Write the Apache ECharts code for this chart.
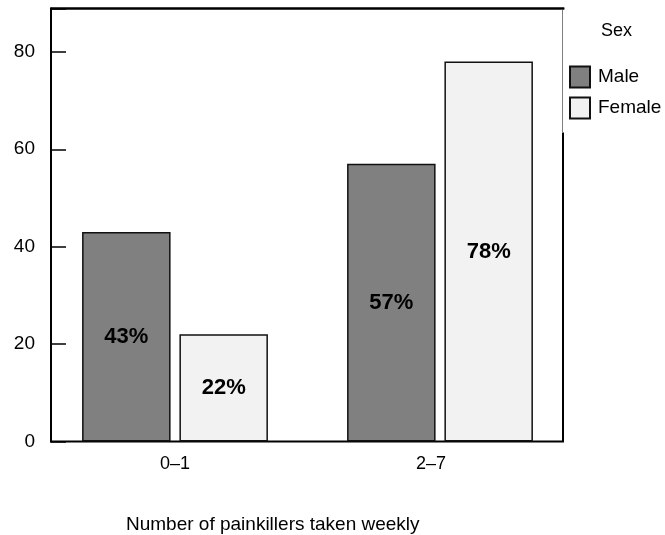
<!DOCTYPE html>
<html>
<head>
<meta charset="utf-8">
<title>Painkillers taken weekly by sex</title>
<script src="https://cdn.jsdelivr.net/npm/echarts@6/dist/echarts.min.js"></script>
<style>
  html, body { margin: 0; padding: 0; background: #ffffff; }
  #chart { width: 665px; height: 535px; }
</style>
</head>
<body>
<div id="chart"></div>
<script>
// Share (%) of each sex per weekly painkiller band
const categories = ['0\u20131', '2\u20137'];
const maleValues = [43, 57];
const femaleValues = [22, 78];
const yTicks = [0, 20, 40, 60, 80];
const seriesNames = ['Male', 'Female'];
const legendTitle = 'Sex';
const xTitle = 'Number of painkillers taken weekly';

const FONT = '"Liberation Sans", Arial, Helvetica, sans-serif';
const Y_MAX = 88.9;

const chart = echarts.init(document.getElementById('chart'), null, { renderer: 'canvas' });

const pct = p => p.value + '%';

const option = {
  backgroundColor: '#ffffff',
  animation: false,
  textStyle: { fontFamily: FONT },
  grid: [
    // frame + value axis
    { left: 51, top: 8.5, width: 512, height: 433, show: true, borderColor: '#000', borderWidth: 2, backgroundColor: 'transparent' },
    // bars
    { left: 42.5, top: 8.5, width: 530, height: 433 },
    // category labels
    { left: 47, top: 8.5, width: 512, height: 433 }
  ],
  xAxis: [
    { gridIndex: 0, type: 'category', data: categories, show: false },
    { gridIndex: 1, type: 'category', data: categories, show: false },
    {
      gridIndex: 2, type: 'category', data: categories,
      axisLine: { show: false }, axisTick: { show: false },
      axisLabel: { color: '#000', fontSize: 18, fontFamily: FONT, margin: 14 }
    }
  ],
  yAxis: [
    {
      gridIndex: 0, type: 'value', min: 0, max: Y_MAX, interval: 20,
      axisLine: { show: true, lineStyle: { color: '#000', width: 2 } },
      axisTick: { show: true, inside: true, length: 15, lineStyle: { color: '#000', width: 1.5 } },
      axisLabel: {
        color: '#000', fontSize: 19, fontFamily: FONT, margin: 16,
        formatter: v => (yTicks.indexOf(v) >= 0 ? String(v) : '')
      },
      splitLine: { show: false }
    },
    { gridIndex: 1, type: 'value', min: 0, max: Y_MAX, show: false, splitLine: { show: false } },
    { gridIndex: 2, type: 'value', min: 0, max: Y_MAX, show: false, splitLine: { show: false } }
  ],
  legend: {
    orient: 'vertical',
    left: 569, top: 65.5,
    padding: 0,
    itemWidth: 20, itemHeight: 21, itemGap: 8,
    icon: 'rect',
    z: 6,
    data: seriesNames,
    textStyle: { color: '#000', fontSize: 19, fontFamily: FONT, padding: [0, 0, 0, 3] }
  },
  series: [
    {
      name: seriesNames[0], type: 'bar', xAxisIndex: 1, yAxisIndex: 1,
      data: maleValues, barWidth: 88.5, barGap: '10%',
      itemStyle: { color: '#808080', borderColor: '#111', borderWidth: 1.5 },
      label: { show: true, position: 'inside', formatter: pct, color: '#000', fontWeight: 'bold', fontSize: 22, fontFamily: FONT }
    },
    {
      name: seriesNames[1], type: 'bar', xAxisIndex: 1, yAxisIndex: 1,
      data: femaleValues, barWidth: 88.5, barGap: '10%',
      itemStyle: { color: '#f2f2f2', borderColor: '#111', borderWidth: 1.5 },
      label: { show: true, position: 'inside', formatter: pct, color: '#000', fontWeight: 'bold', fontSize: 22, fontFamily: FONT }
    }
  ],
  graphic: [
    // legend panel overlapping the frame's right edge
    { type: 'rect', z: 3, shape: { x: 561.5, y: 9.5, width: 110, height: 123 }, style: { fill: '#ffffff' } },
    { type: 'line', z: 4, shape: { x1: 562.5, y1: 8, x2: 562.5, y2: 133 }, style: { stroke: '#808080', lineWidth: 1 } },
    { type: 'line', z: 4, shape: { x1: 51, y1: 8.5, x2: 564.5, y2: 8.5 }, style: { stroke: '#000', lineWidth: 2 } },
    {
      type: 'text', z: 6, left: 601, top: 22,
      style: { text: legendTitle, fill: '#000', font: '18px ' + FONT }
    },
    {
      type: 'text', z: 6, left: 126, top: 515,
      style: { text: xTitle, fill: '#000', font: '19px ' + FONT }
    }
  ]
};

chart.setOption(option);
</script>
</body>
</html>
